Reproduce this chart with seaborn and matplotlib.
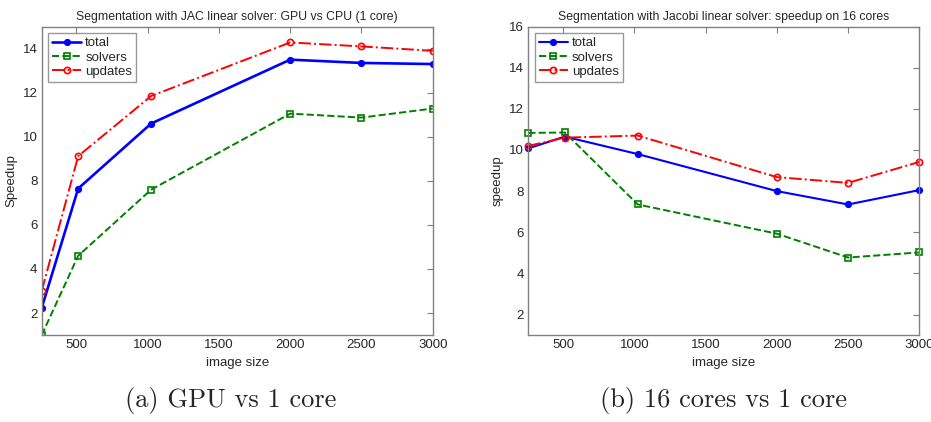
import numpy as np
import pandas as pd
import matplotlib
matplotlib.use("Agg")
import matplotlib.pyplot as plt
import seaborn as sns

# Image sizes on the x axis
sizes = [256, 512, 1024, 2000, 2500, 3000]

# (a) GPU vs CPU (1 core)
gpu_total = [2.23, 7.65, 10.6, 13.5, 13.35, 13.3]
gpu_solvers = [1.0, 4.6, 7.6, 11.05, 10.87, 11.28]
gpu_updates = [3.0, 9.12, 11.85, 14.28, 14.1, 13.9]

# (b) 16 cores vs 1 core
mc_total = [10.08, 10.65, 9.8, 8.0, 7.35, 8.05]
mc_solvers = [10.83, 10.85, 7.35, 5.93, 4.77, 5.02]
mc_updates = [10.2, 10.6, 10.7, 8.68, 8.4, 9.42]

sns.set_style("white")
plt.rcParams['font.family'] = ['Liberation Sans', 'DejaVu Sans']

fig = plt.figure(figsize=(9.31, 4.22), dpi=100)
ax1 = fig.add_axes([0.0448, 0.206, 0.420, 0.731])
ax2 = fig.add_axes([0.5675, 0.206, 0.420, 0.731])

styles = [
    ("total", "#0000ff", "-", "o", "#0000ff", 4),
    ("solvers", "#008000", "--", "s", "none", 4),
    ("updates", "#ff0000", "-.", "o", "none", 4.5),
]


def draw(ax, series, lw_total, clip):
    for (name, col, ls, mk, mfc, ms), vals in zip(styles, series):
        df = pd.DataFrame({"size": sizes, "speedup": vals})
        sns.lineplot(data=df, x="size", y="speedup", ax=ax, color=col,
                     linestyle=ls, marker=mk, markersize=ms,
                     markerfacecolor=mfc, markeredgecolor=col,
                     markeredgewidth=1.2, clip_on=clip,
                     linewidth=lw_total if name == "total" else 1.4,
                     label=name)
    ax.set_xlim(256, 3000)
    ax.set_xticks([500, 1000, 1500, 2000, 2500, 3000])
    ax.set_xlabel("image size", fontsize=9.5)
    for sp in ax.spines.values():
        sp.set_color("#808080")
        sp.set_linewidth(1)
    ax.tick_params(direction="in", top=True, right=True, length=4,
                   color="#808080", labelsize=9.5, pad=3)
    leg = ax.legend(loc="upper left", fontsize=9.5, frameon=True, fancybox=False,
                    handlelength=2.2, borderaxespad=0.5, borderpad=0.3,
                    labelspacing=0.15, handletextpad=0.3)
    leg.get_frame().set_edgecolor("#808080")
    leg.get_frame().set_linewidth(1)


draw(ax1, [gpu_total, gpu_solvers, gpu_updates], 1.9, True)
ax1.set_ylim(1, 15)
ax1.set_yticks([2, 4, 6, 8, 10, 12, 14])
ax1.set_ylabel("Speedup", fontsize=9.5, labelpad=4)
ax1.set_title("Segmentation with JAC linear solver: GPU vs CPU (1 core)",
              fontsize=8.8, pad=5)

draw(ax2, [mc_total, mc_solvers, mc_updates], 1.5, False)
ax2.set_ylim(1, 16)
ax2.set_yticks([2, 4, 6, 8, 10, 12, 14, 16])
ax2.set_ylabel("speedup", fontsize=9.5, labelpad=4)
ax2.set_title("Segmentation with Jacobi linear solver: speedup on 16 cores",
              fontsize=8.8, pad=5)

fig.text(0.248, 0.05, "(a) GPU vs 1 core", ha="center", va="center",
         fontsize=19, family="cmr10")
fig.text(0.777, 0.05, "(b) 16 cores vs 1 core", ha="center", va="center",
         fontsize=19, family="cmr10")

fig.savefig("out.png", dpi=100)
